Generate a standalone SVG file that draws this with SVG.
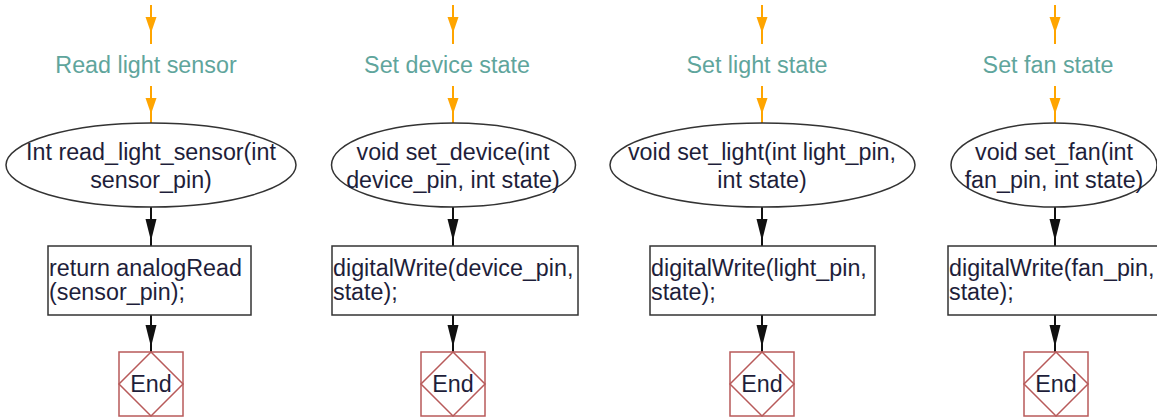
<svg xmlns="http://www.w3.org/2000/svg" xmlns:xlink="http://www.w3.org/1999/xlink" width="1157" height="418" viewBox="0 0 1157 418">
<style>
.bg{fill:#ffffff}
.lbl{font-family:"Liberation Sans",Arial,sans-serif;font-size:23.3px;fill:#5fa59c;text-anchor:middle}
.t{font-family:"Liberation Sans",Arial,sans-serif;font-size:23.3px;fill:#1e1e3a}
.tc{text-anchor:middle}
.ell{fill:#ffffff;stroke:#333333;stroke-width:1.5}
.box{fill:#ffffff;stroke:#333333;stroke-width:1.5}
.end{fill:#ffffff;stroke:#b85a5a;stroke-width:1.5}
.ol{stroke:#ffa500;stroke-width:2;fill:none}
.bl{stroke:#111111;stroke-width:2;fill:none}
.oh{fill:#ffa500}
.bh{fill:#111111}
</style>
<defs>
<path id="oh" d="M-5.5,0 L5.5,0 L0,16 Z"/>
<path id="bh" d="M-5.5,0 L5.5,0 L0,22 Z"/>
</defs>
<rect class="bg" x="0" y="0" width="1157" height="418"/>

<g id="connectors">
  <!-- column 1 -->
  <line class="ol" x1="151" y1="5" x2="151" y2="44"/>
  <use xlink:href="#oh" class="oh" x="151" y="17"/>
  <line class="ol" x1="151" y1="86" x2="151" y2="123"/>
  <use xlink:href="#oh" class="oh" x="151" y="98"/>
  <line class="bl" x1="151" y1="207" x2="151" y2="246"/>
  <use xlink:href="#bh" class="bh" x="151" y="219"/>
  <line class="bl" x1="151" y1="315" x2="151" y2="352"/>
  <use xlink:href="#bh" class="bh" x="151" y="325"/>
  <!-- column 2 -->
  <line class="ol" x1="453" y1="5" x2="453" y2="44"/>
  <use xlink:href="#oh" class="oh" x="453" y="17"/>
  <line class="ol" x1="453" y1="86" x2="453" y2="123"/>
  <use xlink:href="#oh" class="oh" x="453" y="98"/>
  <line class="bl" x1="453" y1="207" x2="453" y2="246"/>
  <use xlink:href="#bh" class="bh" x="453" y="219"/>
  <line class="bl" x1="453" y1="315" x2="453" y2="352"/>
  <use xlink:href="#bh" class="bh" x="453" y="325"/>
  <!-- column 3 -->
  <line class="ol" x1="762" y1="5" x2="762" y2="44"/>
  <use xlink:href="#oh" class="oh" x="762" y="17"/>
  <line class="ol" x1="762" y1="86" x2="762" y2="123"/>
  <use xlink:href="#oh" class="oh" x="762" y="98"/>
  <line class="bl" x1="762" y1="207" x2="762" y2="246"/>
  <use xlink:href="#bh" class="bh" x="762" y="219"/>
  <line class="bl" x1="762" y1="315" x2="762" y2="352"/>
  <use xlink:href="#bh" class="bh" x="762" y="325"/>
  <!-- column 4 -->
  <line class="ol" x1="1055" y1="5" x2="1055" y2="44"/>
  <use xlink:href="#oh" class="oh" x="1055" y="17"/>
  <line class="ol" x1="1055" y1="86" x2="1055" y2="123"/>
  <use xlink:href="#oh" class="oh" x="1055" y="98"/>
  <line class="bl" x1="1055" y1="207" x2="1055" y2="246"/>
  <use xlink:href="#bh" class="bh" x="1055" y="219"/>
  <line class="bl" x1="1055" y1="315" x2="1055" y2="352"/>
  <use xlink:href="#bh" class="bh" x="1055" y="325"/>
</g>

<!-- column 1 -->
<g id="label1"><text class="lbl" x="146" y="73">Read light sensor</text></g>
<g id="start1">
  <ellipse class="ell" cx="151" cy="165" rx="145" ry="42"/>
  <text class="t tc" x="151" y="160">Int read_light_sensor(int</text>
  <text class="t tc" x="151" y="188">sensor_pin)</text>
</g>
<g id="proc1">
  <rect class="box" x="48" y="246" width="203" height="69"/>
  <text class="t" x="49" y="276">return analogRead</text>
  <text class="t" x="49" y="300">(sensor_pin);</text>
</g>
<g id="end1">
  <rect class="end" x="119" y="352" width="64" height="64"/>
  <path class="end" d="M151,352 L183,384 L151,416 L119,384 Z"/>
  <text class="t tc" x="151" y="392">End</text>
</g>

<!-- column 2 -->
<g id="label2"><text class="lbl" x="447" y="73">Set device state</text></g>
<g id="start2">
  <ellipse class="ell" cx="453.5" cy="165" rx="122" ry="42"/>
  <text class="t tc" x="453" y="160">void set_device(int</text>
  <text class="t tc" x="453" y="188">device_pin, int state)</text>
</g>
<g id="proc2">
  <rect class="box" x="332" y="246" width="246" height="69"/>
  <text class="t" x="333" y="276">digitalWrite(device_pin,</text>
  <text class="t" x="333" y="300">state);</text>
</g>
<g id="end2">
  <rect class="end" x="421" y="352" width="64" height="64"/>
  <path class="end" d="M453,352 L485,384 L453,416 L421,384 Z"/>
  <text class="t tc" x="453" y="392">End</text>
</g>

<!-- column 3 -->
<g id="label3"><text class="lbl" x="757" y="73">Set light state</text></g>
<g id="start3">
  <ellipse class="ell" cx="762.5" cy="165" rx="152.5" ry="42"/>
  <text class="t tc" x="762" y="160">void set_light(int light_pin,</text>
  <text class="t tc" x="762" y="188">int state)</text>
</g>
<g id="proc3">
  <rect class="box" x="650" y="246" width="225" height="69"/>
  <text class="t" x="651" y="276">digitalWrite(light_pin,</text>
  <text class="t" x="651" y="300">state);</text>
</g>
<g id="end3">
  <rect class="end" x="730" y="352" width="64" height="64"/>
  <path class="end" d="M762,352 L794,384 L762,416 L730,384 Z"/>
  <text class="t tc" x="762" y="392">End</text>
</g>

<!-- column 4 -->
<g id="label4"><text class="lbl" x="1048" y="73">Set fan state</text></g>
<g id="start4">
  <ellipse class="ell" cx="1054" cy="165" rx="103" ry="42"/>
  <text class="t tc" x="1054" y="160">void set_fan(int</text>
  <text class="t tc" x="1054" y="188">fan_pin, int state)</text>
</g>
<g id="proc4">
  <rect class="box" x="948" y="246" width="220" height="69"/>
  <text class="t" x="949" y="276">digitalWrite(fan_pin,</text>
  <text class="t" x="949" y="300">state);</text>
</g>
<g id="end4">
  <rect class="end" x="1024" y="352" width="64" height="64"/>
  <path class="end" d="M1056,352 L1088,384 L1056,416 L1024,384 Z"/>
  <text class="t tc" x="1056" y="392">End</text>
</g>
</svg>
